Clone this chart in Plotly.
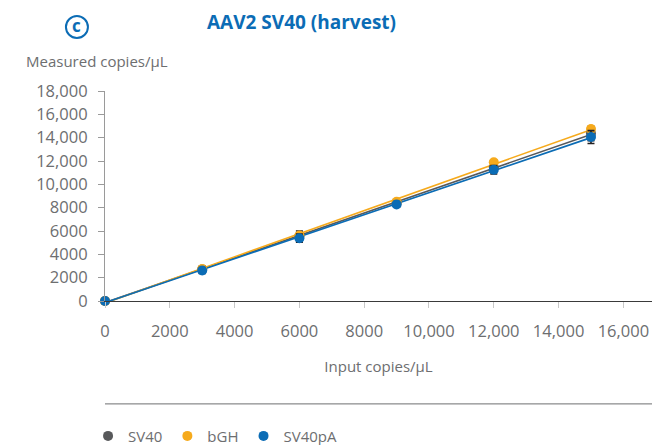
import numpy as np
import plotly.graph_objects as go

input_copies = [0, 3000, 6000, 9000, 12000, 15000]
sv40 = [0, 2700, 5550, 8350, 11450, 14350]
sv40_err = [60, 300, 450, 300, 400, 600]
bgh = [0, 2750, 5620, 8500, 11900, 14750]
bgh_err = [40, 150, 200, 150, 200, 200]
sv40pa = [0, 2620, 5380, 8280, 11250, 14050]
sv40pa_err = [40, 250, 350, 250, 350, 550]

series = [
    ("SV40", sv40, sv40_err, "#58595b"),
    ("bGH", bgh, bgh_err, "#f6aa1c"),
    ("SV40pA", sv40pa, sv40pa_err, "#0b6cb5"),
]

FONT = "Open Sans"
GRAY = "#6d6e70"
BLUE = "#0b6cb5"

fig = go.Figure()
xs = np.array(input_copies, dtype=float)
for name, ys, err, col in series:
    k, b = np.polyfit(xs, np.array(ys, dtype=float), 1)
    fig.add_trace(go.Scatter(
        x=[xs.min(), xs.max()], y=[b + k * xs.min(), b + k * xs.max()],
        mode="lines", line=dict(color=col, width=1.6),
        showlegend=False, hoverinfo="skip", cliponaxis=False))
for name, ys, err, col in series:
    fig.add_trace(go.Scatter(
        x=input_copies, y=ys, mode="markers", name=name,
        marker=dict(color=col, size=10),
        error_y=dict(type="data", array=err, color="#231f20", thickness=1.6, width=3.5),
        cliponaxis=False))

fig.update_layout(
    width=652, height=445,
    margin=dict(l=105, r=0, t=91, b=144, autoexpand=False),
    paper_bgcolor="white", plot_bgcolor="white",
    font=dict(family=FONT, color=GRAY, size=15),
    showlegend=True,
    legend=dict(orientation="h", x=-0.031, xanchor="left", y=-0.565, yanchor="top",
                font=dict(size=15, color=GRAY), itemwidth=30, tracegroupgap=0),
    xaxis=dict(range=[0, 16883], tickvals=[0, 2000, 4000, 6000, 8000, 10000, 12000, 14000, 16000],
               ticktext=["0", "2000", "4000", "6000", "8000", "10,000", "12,000", "14,000", "16,000"],
               showgrid=False, zeroline=False, showline=True, linecolor="#3a3a3a", linewidth=1.2,
               ticks="outside", ticklen=6, tickcolor="#c8c8c8", tickwidth=1, automargin=False,
               ticklabelstandoff=9,
               tickfont=dict(size=16.5, color=GRAY),
               title=dict(text="Input copies/μL", font=dict(size=15, color=GRAY), standoff=20)),
    yaxis=dict(range=[0, 18000], tickvals=list(range(0, 18001, 2000)),
               ticktext=["0", "2000", "4000", "6000", "8000", "10,000", "12,000", "14,000", "16,000", "18,000"],
               showgrid=False, zeroline=False, showline=True, linecolor="#9a9a9a", linewidth=1.2,
               ticks="outside", ticklen=6, tickcolor="#9a9a9a", tickwidth=1, automargin=False,
               ticklabelstandoff=7,
               tickfont=dict(size=16.5, color=GRAY)),
    shapes=[
        dict(type="line", xref="paper", yref="paper", x0=0, x1=1, y0=-0.49, y1=-0.49,
             line=dict(color="#6d6e70", width=1)),
        dict(type="circle", xref="paper", yref="paper", xsizemode="pixel", ysizemode="pixel",
             xanchor=-0.0513, yanchor=1.305, x0=-11, x1=11, y0=-11, y1=11,
             line=dict(color=BLUE, width=2)),
    ],
    annotations=[
        dict(text="<b>AAV2 SV40 (harvest)</b>", xref="paper", yref="paper", x=0.36, y=1.33,
             xanchor="center", yanchor="middle", showarrow=False,
             font=dict(size=19, color=BLUE, family=FONT)),
        dict(text="<b>c</b>", xref="paper", yref="paper", x=-0.0513, y=1.31,
             xanchor="center", yanchor="middle", showarrow=False,
             font=dict(size=17, color=BLUE, family=FONT)),
        dict(text="Measured copies/μL", xref="paper", yref="paper", x=-0.148, y=1.145,
             xanchor="left", yanchor="middle", showarrow=False,
             font=dict(size=15, color=GRAY, family=FONT)),
    ],
)

fig.write_html("out.html", config={"displayModeBar": False},
               post_script="document.body.style.margin='0';document.body.style.overflow='hidden';")
